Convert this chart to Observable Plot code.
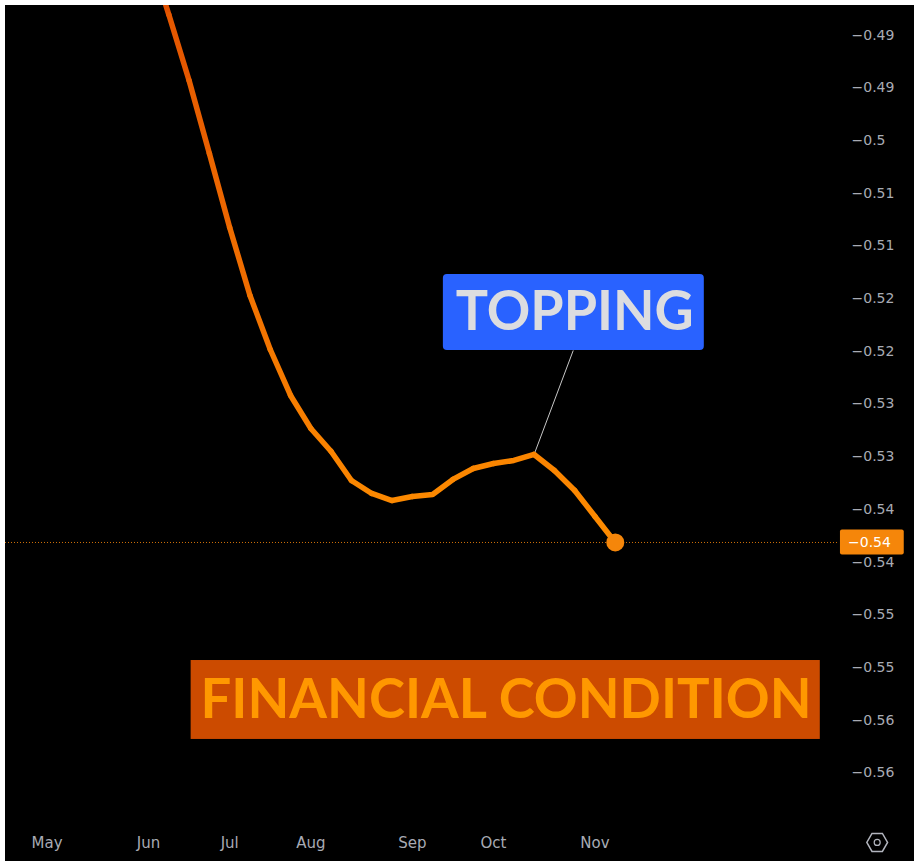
<!DOCTYPE html>
<html>
<head>
<meta charset="utf-8">
<script src="https://cdn.jsdelivr.net/npm/d3@7"></script>
<script src="https://cdn.jsdelivr.net/npm/@observablehq/plot@0.6"></script>
<style>
html,body{margin:0;padding:0;background:#fff;}
#chart{position:absolute;left:5px;top:5px;width:909px;height:856px;}
#chart svg{display:block;background:#000;}
</style>
</head>
<body>
<div id="chart"></div>
<script>
const weeks = ["2021-06-06","2021-06-13","2021-06-20","2021-06-27","2021-07-04","2021-07-11","2021-07-18","2021-07-25","2021-08-01","2021-08-08","2021-08-15","2021-08-22","2021-08-29","2021-09-05","2021-09-12","2021-09-19","2021-09-26","2021-10-03","2021-10-10","2021-10-17","2021-10-24","2021-10-31","2021-11-07","2021-11-14"];
const values = [-0.48197,-0.48805,-0.49431,-0.50123,-0.50825,-0.51471,-0.51983,-0.52419,-0.52733,-0.52951,-0.53226,-0.53349,-0.53416,-0.53378,-0.53359,-0.53216,-0.53112,-0.53065,-0.53036,-0.52979,-0.53131,-0.53321,-0.53567,-0.53814];
const monthTicks = ["2021-05-02","2021-06-06","2021-07-04","2021-08-01","2021-09-05","2021-10-03","2021-11-07"];
const monthLabels = ["May","Jun","Jul","Aug","Sep","Oct","Nov"];
const priceTicks = [-0.49,-0.495,-0.5,-0.505,-0.51,-0.515,-0.52,-0.525,-0.53,-0.535,-0.54,-0.545,-0.55,-0.555,-0.56];
const priceLabels = ["−0.49","−0.49","−0.5","−0.51","−0.51","−0.52","−0.52","−0.53","−0.53","−0.54","−0.54","−0.55","−0.55","−0.56","−0.56"];
const xDomain = ["2021-04-17T16:17","2022-01-30T08:00"];
const yDomain = [-0.56452,-0.48719];
const lastLabel = "−0.54";
const toppingText = "TOPPING";
const financialText = "FINANCIAL CONDITION";

const d = s => new Date(s + (s.length > 10 ? ":00Z" : "T00:00:00Z"));
const series = weeks.map((w,i) => ({date:d(w), value:values[i]}));
const last = series[series.length-1];
const peak = series[19];

const chart = Plot.plot({
  width: 909, height: 856,
  marginTop: 0, marginLeft: 0, marginRight: 75, marginBottom: 41,
  style: {background:"#000", fontFamily:"'DejaVu Sans', sans-serif"},
  x: {type:"utc", domain:xDomain.map(d), axis:null},
  y: {domain:yDomain, axis:null},
  color: {type:"linear", domain:[-0.49,-0.54], range:["#e65a00","#ff8f00"]},
  marks: [
    Plot.axisY(priceTicks, {anchor:"right", tickSize:0, tickPadding:12, fontSize:14, fill:"#a8abb4",
      tickFormat:v => priceLabels[priceTicks.indexOf(v)], label:null}),
    Plot.axisX(monthTicks.map(d), {anchor:"bottom", tickSize:0, tickPadding:17, fontSize:15, fill:"#a8abb4",
      tickFormat:v => monthLabels[monthTicks.indexOf(v.toISOString().slice(0,10))], label:null}),
    Plot.ruleY([last.value], {stroke:"#f5860a", strokeWidth:1, strokeDasharray:"1 2", strokeOpacity:0.85}),
    Plot.link([0], {x1:()=>d("2021-10-30T12:00"), y1:()=>-0.51992, x2:()=>peak.date, y2:()=>peak.value, stroke:"#c8c8c8", strokeWidth:1}),
    Plot.line(series, {x:"date", y:"value", z:null, stroke:"value", strokeWidth:5.5, clip:true, curve:"linear"}),
    Plot.dot([last], {x:"date", y:"value", r:9, fill:"#f5860a"}),
    Plot.rect([0], {x1:()=>d("2021-09-15T17:00"), x2:()=>d("2021-12-14T17:00"), y1:()=>-0.51992, y2:()=>-0.51271, fill:"#2962ff", rx:4}),
    Plot.text([toppingText], {x:()=>d("2021-10-31T00:00"), y:()=>-0.51632, text:t=>t, fill:"#dcdde0", fontSize:56, fontWeight:700, fontFamily:"Lato", className:"topping"}),
    Plot.rect([0], {x1:()=>d("2021-06-20T17:00"), x2:()=>d("2022-01-23T17:00"), y1:()=>-0.55683, y2:()=>-0.54934, fill:"#cc4b00"}),
    Plot.text([financialText], {x:()=>d("2021-10-07T08:00"), y:()=>-0.55309, text:t=>t, fill:"#ff9800", fontSize:56, fontWeight:700, fontFamily:"Lato", className:"financial"}),
    Plot.rect([0], {x1:()=>d("2022-01-30T16:00"), x2:()=>d("2022-02-21T16:00"), y1:()=>last.value-0.00119, y2:()=>last.value+0.00119, fill:"#f5860a", rx:2}),
    Plot.text([lastLabel], {x:()=>d("2022-02-09T16:00"), y:()=>last.value, text:t=>t, fill:"#fff", fontSize:14}),
    Plot.dot([0], {x:()=>d("2022-02-12T08:00"), y:()=>-0.5666, symbol:"hexagon", r:9, rotate:90, stroke:"#b2b5be", strokeWidth:1.5, fill:"none"}),
    Plot.dot([0], {x:()=>d("2022-02-12T08:00"), y:()=>-0.5666, r:3, stroke:"#b2b5be", strokeWidth:1.2, fill:"none"})
  ]
});
const fit = (cls,len) => {
  const t = chart.querySelector("g."+cls+" text, ."+cls+" text");
  if (t) { t.setAttribute("textLength",len); t.setAttribute("lengthAdjust","spacingAndGlyphs"); }
};
fit("topping",238);
fit("financial",611);
document.getElementById("chart").append(chart);
</script>
</body>
</html>
